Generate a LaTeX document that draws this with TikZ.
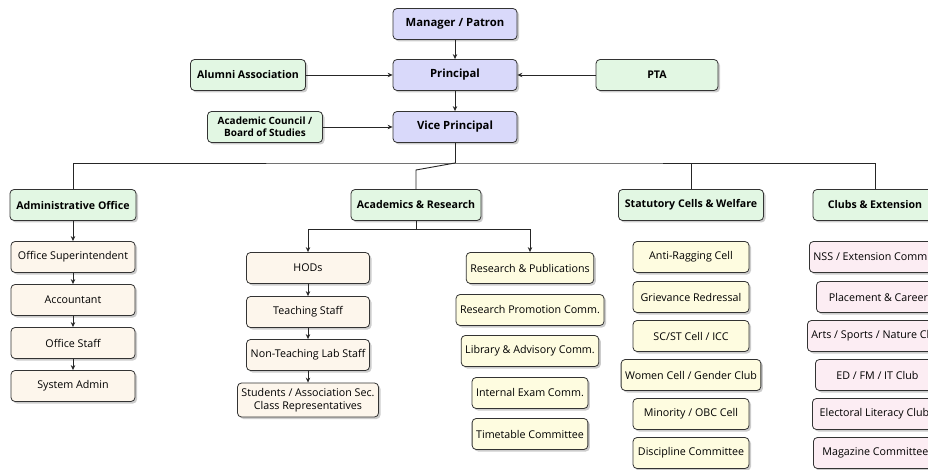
\documentclass[tikz,border=0pt]{standalone}
\usepackage{fontspec}
\setmainfont{Open Sans}
\usetikzlibrary{arrows.meta,shadows}
\definecolor{headfill}{HTML}{D9D9FA}
\definecolor{sidefill}{HTML}{E2F7E3}
\definecolor{stafffill}{HTML}{FDF6EC}
\definecolor{commfill}{HTML}{FEFCE0}
\definecolor{clubfill}{HTML}{FCEDF3}
\begin{document}
\begin{tikzpicture}[x=1pt,y=-1pt,
	box/.style={draw=black!80, line width=0.8pt, rounded corners=4pt, minimum height=31pt,
		inner xsep=4pt, inner ysep=1pt, align=center, font=\fontsize{10.7}{12.5}\selectfont,
		drop shadow={shadow xshift=2pt, shadow yshift=-2pt, fill=black!40, opacity=0.5}},
	head/.style={box, fill=headfill, minimum width=124pt, font=\fontsize{11.3}{13}\selectfont\bfseries},
	side/.style={box, fill=sidefill, font=\fontsize{10.6}{12}\selectfont\bfseries},
	staff/.style={box, fill=stafffill},
	comm/.style={box, fill=commfill},
	club/.style={box, fill=clubfill, anchor=west, minimum width=124pt},
	link/.style={draw=black!85, line width=0.9pt},
	arr/.style={link, -{Stealth[length=5pt,width=4.5pt]}}]
	\path[use as bounding box] (0,0) rectangle (928,470);
	\clip (0,0) rectangle (928,470);
	% top of the chart
	\node[head] (mgr) at (455,24) {Manager / Patron};
	\node[head] (prin) at (455,75) {Principal};
	\node[head] (vp) at (455,127) {Vice Principal};
	\node[side, minimum width=115pt] (alumni) at (248,75) {Alumni Association};
	\node[side, minimum width=122pt] (pta) at (657,75) {PTA};
	\node[side, minimum width=115pt, font=\fontsize{10}{11.5}\selectfont\bfseries] (council) at (265,127) {Academic Council /\\Board of Studies};
	\draw[arr] (mgr) -- (prin);
	\draw[arr] (prin) -- (vp);
	\draw[arr] (alumni) -- (prin);
	\draw[arr] (pta) -- (prin);
	\draw[arr] (council) -- (vp);
	% four wings
	\node[side, minimum width=126pt] (admin) at (73,205) {Administrative Office};
	\node[side, minimum width=130pt] (acad) at (416,205) {Academics \& Research};
	\node[side, minimum width=145pt] (stat) at (691,205) {Statutory Cells \& Welfare};
	\node[side, minimum width=124pt] (clubs) at (875,205) {Clubs \& Extension};
	\coordinate (bus) at (455,163);
	\coordinate (kink) at (416,170);
	\draw[link] (vp) -- (bus);
	\draw[link] (admin.north) |- (bus) -| (clubs.north);
	\draw[link] (stat.north) -- (stat.north |- bus);
	\draw[link] (bus) -- (kink) -- (acad.north);
	% administrative office
	\node[staff, minimum width=124pt] (osup) at (73,257) {Office Superintendent};
	\node[staff, minimum width=124pt] (acct) at (73,300) {Accountant};
	\node[staff, minimum width=124pt] (ostaff) at (73,343) {Office Staff};
	\node[staff, minimum width=124pt] (sysad) at (73,386) {System Admin};
	\draw[arr] (admin) -- (osup);
	\draw[arr] (osup) -- (acct);
	\draw[arr] (acct) -- (ostaff);
	\draw[arr] (ostaff) -- (sysad);
	% academics and research
	\node[staff, minimum width=123pt] (hods) at (308,268) {HODs};
	\node[staff, minimum width=123pt] (teach) at (308,312) {Teaching Staff};
	\node[staff, minimum width=123pt] (ntls) at (308,355) {Non-Teaching Lab Staff};
	\node[staff, minimum height=34pt] (stud) at (308,400) {Students / Association Sec.\\Class Representatives};
	\draw[link] (acad) -- (acad.south |- 0,229) coordinate (split);
	\draw[arr] (split) -| (hods);
	\draw[arr] (hods) -- (teach);
	\draw[arr] (teach) -- (ntls);
	\draw[arr] (ntls) -- (stud);
	\node[comm] (rp) at (530,268) {Research \& Publications};
	\node[comm] (rpc) at (530,310) {Research Promotion Comm.};
	\node[comm] (lib) at (530,351) {Library \& Advisory Comm.};
	\node[comm] (exam) at (530,393) {Internal Exam Comm.};
	\node[comm] (ttc) at (530,434) {Timetable Committee};
	\draw[arr] (split) -| (rp);
	% statutory cells
	\node[comm, minimum width=116pt] (arc) at (691,257) {Anti-Ragging Cell};
	\node[comm, minimum width=116pt] (griev) at (691,297) {Grievance Redressal};
	\node[comm, minimum width=116pt] (scst) at (691,336) {SC/ST Cell / ICC};
	\node[comm, minimum width=116pt] (women) at (691,375) {Women Cell / Gender Club};
	\node[comm, minimum width=116pt] (minor) at (691,414) {Minority / OBC Cell};
	\node[comm, minimum width=116pt] (disc) at (691,453) {Discipline Committee};
	% clubs and extension
	\node[club] (nss) at (809,257) {NSS / Extension Comm.};
	\node[club] (place) at (816,297) {Placement \& Career};
	\node[club] (arts) at (807,336) {Arts / Sports / Nature Club};
	\node[club] (edc) at (815,375) {ED / FM / IT Club};
	\node[club] (elc) at (812,414) {Electoral Literacy Club};
	\node[club] (mag) at (813,453) {Magazine Committee};
\end{tikzpicture}
\end{document}
